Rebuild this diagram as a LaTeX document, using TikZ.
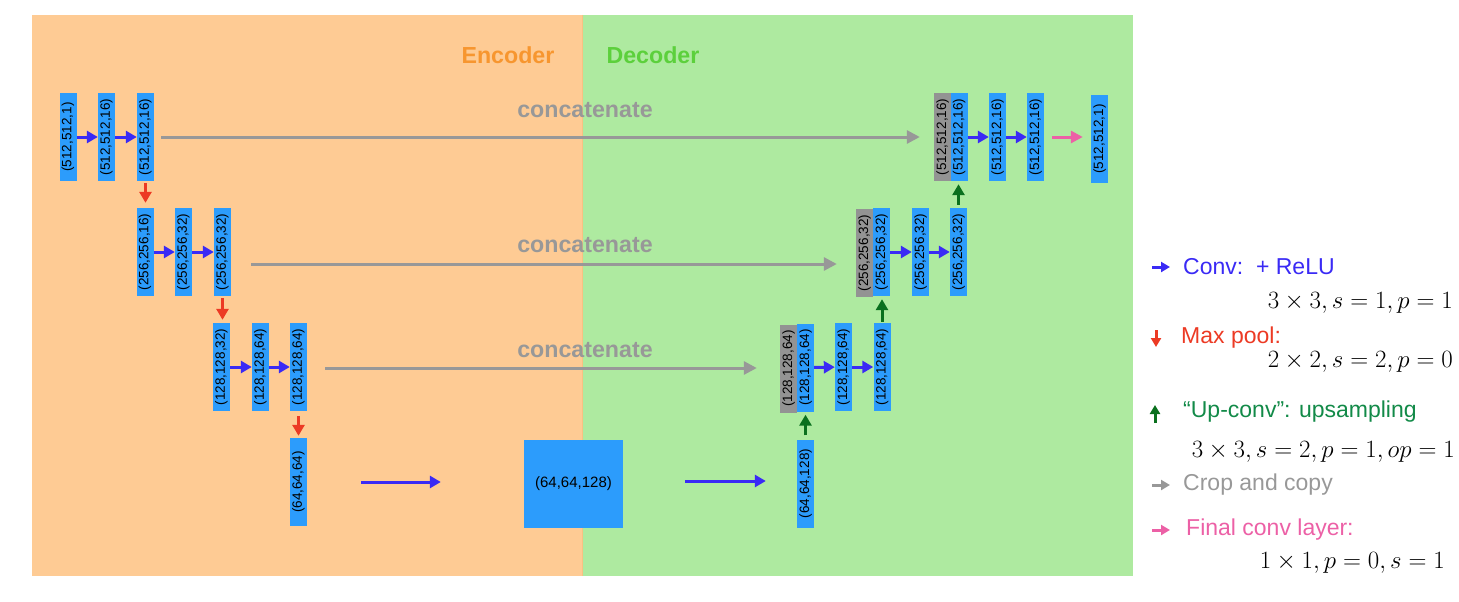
\documentclass[tikz,border=0pt]{standalone}
\usepackage{fontspec}
\setmainfont{Liberation Sans}
\usetikzlibrary{arrows.meta}

\definecolor{bgorange}{RGB}{254,203,148}
\definecolor{bggreen}{RGB}{174,234,160}
\definecolor{blkblue}{RGB}{44,156,252}
\definecolor{blkgray}{RGB}{147,147,147}
\definecolor{convblue}{RGB}{58,42,245}
\definecolor{poolred}{RGB}{236,58,36}
\definecolor{upgreen}{RGB}{10,112,30}
\definecolor{legendgreen}{RGB}{18,138,72}
\definecolor{cropgray}{RGB}{152,152,152}
\definecolor{finalpink}{RGB}{236,96,166}
\definecolor{enctext}{RGB}{247,150,47}
\definecolor{dectext}{RGB}{92,208,60}

\tikzset{
	blk/.style={fill=blkblue, minimum width=17pt, minimum height=88pt, inner sep=0pt, font=\fontsize{13.5}{14}\selectfont},
	catblk/.style={blk, fill=blkgray},
	convarr/.style={line width=3pt, color=convblue, -{Triangle[length=11pt,width=12pt]}},
	poolarr/.style={line width=3pt, color=poolred, -{Triangle[length=11pt,width=12pt]}},
	uparr/.style={line width=3pt, color=upgreen, -{Triangle[length=11pt,width=12pt]}},
	croparr/.style={line width=3pt, color=cropgray, -{Triangle[length=13pt,width=13pt]}},
	finalarr/.style={line width=3pt, color=finalpink, -{Triangle[length=12pt,width=12pt]}},
	legarr/.style={line width=3pt, -{Triangle[length=9pt,width=10pt]}},
	title/.style={font=\fontsize{23.2}{25}\selectfont\bfseries},
	legtext/.style={anchor=west, inner sep=0pt, font=\fontsize{23}{25}\selectfont},
	legmath/.style={anchor=east, inner sep=0pt, font=\fontsize{28}{30}\selectfont}
}

\begin{document}
\begin{tikzpicture}[x=1pt, y=-1pt]
		%%%%% START %%%%%
		\useasboundingbox (0, 0) rectangle (1459, 602);
		
		\fill[bgorange] (32, 15) rectangle (582, 576);
		\fill[bggreen] (582, 15) rectangle (1133, 576);
		\draw[line width=0.8pt, color=enctext!60] (582, 15) -- (582, 576);
		
		\node[title, color=enctext] (enc) at (508, 55) {Encoder};
		\node[title, color=dectext] (dec) at (653, 55) {Decoder};
		
		\node[title, color=cropgray] (cat1) at (585, 110) {concatenate};
		\node[title, color=cropgray] (cat2) at (585, 245) {concatenate};
		\node[title, color=cropgray] (cat3) at (585, 350) {concatenate};
		
		% encoder
		\node[blk] (e1a) at (68, 137) {\rotatebox{90}{(512,512,1)}};
		\node[blk] (e1b) at (106.5, 137) {\rotatebox{90}{(512,512,16)}};
		\node[blk] (e1c) at (145.5, 137) {\rotatebox{90}{(512,512,16)}};
		
		\node[blk] (e2a) at (145, 252) {\rotatebox{90}{(256,256,16)}};
		\node[blk] (e2b) at (183.5, 252) {\rotatebox{90}{(256,256,32)}};
		\node[blk] (e2c) at (222.5, 252) {\rotatebox{90}{(256,256,32)}};
		
		\node[blk] (e3a) at (221.5, 367) {\rotatebox{90}{(128,128,32)}};
		\node[blk] (e3b) at (260.5, 367) {\rotatebox{90}{(128,128,64)}};
		\node[blk] (e3c) at (298.5, 367) {\rotatebox{90}{(128,128,64)}};
		
		\node[blk] (e4) at (298.5, 482) {\rotatebox{90}{(64,64,64)}};
		
		\node[blk, minimum width=99pt, font=\fontsize{15}{16}\selectfont] (bot) at (573.5, 484) {(64,64,128)};
		
		% decoder
		\node[blk] (d4) at (805.5, 483.5) {\rotatebox{90}{(64,64,128)}};
		
		\node[catblk] (d3g) at (788.5, 368.5) {\rotatebox{90}{(128,128,64)}};
		\node[blk] (d3b) at (805.5, 367.5) {\rotatebox{90}{(128,128,64)}};
		\node[blk] (d3c) at (843.5, 367) {\rotatebox{90}{(128,128,64)}};
		\node[blk] (d3d) at (882, 367) {\rotatebox{90}{(128,128,64)}};
		
		\node[catblk] (d2g) at (864.5, 253) {\rotatebox{90}{(256,256,32)}};
		\node[blk] (d2b) at (881.5, 252) {\rotatebox{90}{(256,256,32)}};
		\node[blk] (d2c) at (920.5, 252) {\rotatebox{90}{(256,256,32)}};
		\node[blk] (d2d) at (958.5, 252) {\rotatebox{90}{(256,256,32)}};
		
		\node[catblk] (d1g) at (942.5, 137) {\rotatebox{90}{(512,512,16)}};
		\node[blk] (d1b) at (959, 137) {\rotatebox{90}{(512,512,16)}};
		\node[blk] (d1c) at (997.5, 137) {\rotatebox{90}{(512,512,16)}};
		\node[blk] (d1d) at (1035.5, 137) {\rotatebox{90}{(512,512,16)}};
		\node[blk] (out) at (1099.5, 139) {\rotatebox{90}{(512,512,1)}};
		
		% conv arrows
		\draw[convarr] (e1a) -- (e1b);
		\draw[convarr] (e1b) -- (e1c);
		\draw[convarr] (e2a) -- (e2b);
		\draw[convarr] (e2b) -- (e2c);
		\draw[convarr] (e3a) -- (e3b);
		\draw[convarr] (e3b) -- (e3c);
		\draw[convarr, shorten <=54pt, shorten >=83pt] (e4.east) -- (e4.east -| bot.west);
		\draw[convarr, shorten <=62pt, shorten >=31pt] ([yshift=3pt]bot.east) -- ([yshift=3pt]bot.east -| d4.west);
		\draw[convarr] (d3b) -- (d3c);
		\draw[convarr] (d3c) -- (d3d);
		\draw[convarr] (d2b) -- (d2c);
		\draw[convarr] (d2c) -- (d2d);
		\draw[convarr] (d1b) -- (d1c);
		\draw[convarr] (d1c) -- (d1d);
		\draw[finalarr, shorten <=8pt, shorten >=8pt] (d1d.east) -- (d1d.east -| out.west);
		
		% max pool
		\draw[poolarr, shorten <=2pt, shorten >=5pt] (e1c.south) -- (e1c.south |- e2a.north);
		\draw[poolarr, shorten <=2pt, shorten >=3pt] (e2c.south) -- (e2c.south |- e3a.north);
		\draw[poolarr, shorten <=5pt, shorten >=2pt] (e3c.south) -- (e4.north);
		
		% up-conv
		\draw[uparr, shorten <=4pt, shorten >=3pt] (d4.north) -- (d4.north |- d3b.south);
		\draw[uparr, shorten <=1pt, shorten >=3pt] (d3d.north) -- (d3d.north |- d2b.south);
		\draw[uparr, shorten <=3pt, shorten >=3pt] (d2d.north) -- (d2d.north |- d1b.south);
		
		% crop and copy
		\draw[croparr, shorten <=7pt, shorten >=14pt] (e1c.east) -- (e1c.east -| d1g.west);
		\draw[croparr, shorten <=20pt, shorten >=19pt] ([yshift=-12pt]e2c.east) -- ([yshift=-12pt]e2c.east -| d2g.west);
		\draw[croparr, shorten <=18pt, shorten >=23pt] ([yshift=-1pt]e3c.east) -- ([yshift=-1pt]e3c.east -| d3g.west);
		
		% legend
		\node[legtext, color=convblue] (lgconv) at (1183, 267) {Conv:\ \ + ReLU};
		\node[legmath] (lgconvm) at (1453, 303) {$3\times 3, s=1, p=1$};
		\node[legtext, color=poolred] (lgpool) at (1181, 338) {Max pool:};
		\node[legmath] (lgpoolm) at (1453, 362) {$2\times 2, s=2, p=0$};
		\node[legtext, color=legendgreen] (lgup) at (1183, 412) {“Up-conv”: upsampling};
		\node[legmath] (lgupm) at (1455, 452) {$3\times 3, s=2, p=1, op=1$};
		\node[legtext, color=cropgray] (lgcrop) at (1183, 485) {Crop and copy};
		\node[legtext, color=finalpink] (lgfinal) at (1186, 530) {Final conv layer:};
		\node[legmath] (lgfinalm) at (1445, 563) {$1\times 1, p=0, s=1$};
		
		\draw[legarr, color=convblue] ([xshift=-31pt]lgconv.west) -- ([xshift=-13pt]lgconv.west);
		\draw[legarr, color=poolred] ([shift={(-25pt,8pt)}]lgpool.west) -- ([shift={(-25pt,-9pt)}]lgpool.west);
		\draw[legarr, color=upgreen] ([shift={(-28pt,-11pt)}]lgup.west) -- ([shift={(-28pt,7pt)}]lgup.west);
		\draw[legarr, color=cropgray] ([xshift=-31pt]lgcrop.west) -- ([xshift=-13pt]lgcrop.west);
		\draw[legarr, color=finalpink] ([xshift=-34pt]lgfinal.west) -- ([xshift=-16pt]lgfinal.west);
		
		%%%%% END %%%%%
	\end{tikzpicture}
\end{document}
